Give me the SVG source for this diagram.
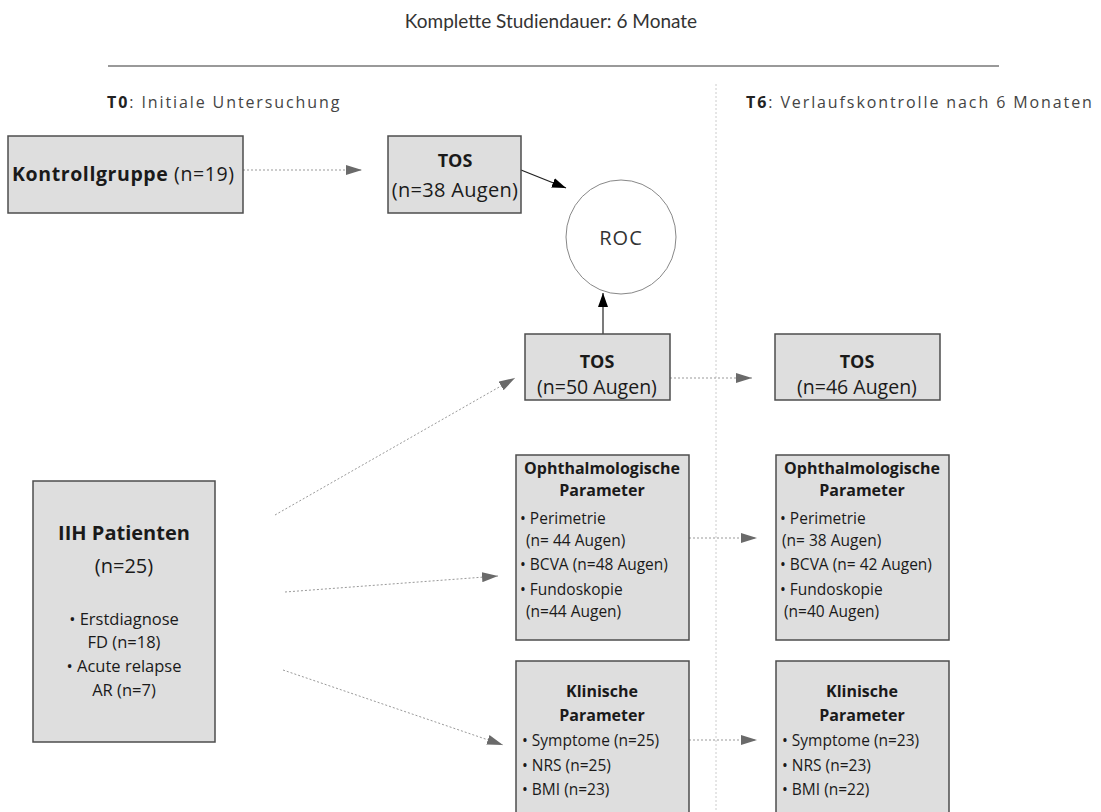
<svg xmlns="http://www.w3.org/2000/svg" width="1101" height="812" viewBox="0 0 1101 812">
<style>
text{font-family:"Open Sans",Lato,"Liberation Sans",sans-serif;fill:#1a1a1a}
.box{fill:#dedede;stroke:#4d4d4d;stroke-width:1.5}
.b{font-weight:bold}
.c{text-anchor:middle}
.hd{font-size:16px;fill:#444;letter-spacing:1.9px}
.big{font-size:19.5px}
.sm{font-size:15.5px}
.hh{font-size:16px;font-weight:bold}
.dot{stroke:#999;stroke-width:1;stroke-dasharray:2 2;fill:none}
.sol{stroke:#222;stroke-width:1.2;fill:none}
</style>
<defs>
<marker id="ag" viewBox="0 0 16 10" refX="16" refY="5" markerWidth="16" markerHeight="10" markerUnits="userSpaceOnUse" orient="auto"><path d="M0,0 L16,5 L0,10 Z" fill="#6a6a6a"/></marker>
<marker id="ab" viewBox="0 0 14 10" refX="14" refY="5" markerWidth="14" markerHeight="10" markerUnits="userSpaceOnUse" orient="auto"><path d="M0,0 L14,5 L0,10 Z" fill="#000"/></marker>
</defs>
<rect width="1101" height="812" fill="#fff"/>
<g id="header">
<text x="551" y="28" class="c" style="font-family:Lato,'Open Sans',sans-serif;font-size:19px;fill:#333">Komplette Studiendauer: 6 Monate</text>
<line x1="108" y1="66" x2="999" y2="66" stroke="#777" stroke-width="1.5"/>
<line x1="716" y1="84" x2="716" y2="812" stroke="#ccc" stroke-width="1" stroke-dasharray="2 2"/>
<text x="107" y="108" class="hd"><tspan class="b" style="fill:#222">T0</tspan>: Initiale Untersuchung</text>
<text x="746" y="108" class="hd"><tspan class="b" style="fill:#222">T6</tspan>: Verlaufskontrolle nach 6 Monaten</text>
</g>
<g id="connectors">
<line class="dot" x1="243" y1="170" x2="362" y2="170" marker-end="url(#ag)"/>
<line class="sol" x1="521" y1="170" x2="566" y2="188" marker-end="url(#ab)"/>
<line class="sol" x1="603" y1="334" x2="603" y2="293" marker-end="url(#ab)"/>
<line class="dot" x1="670" y1="378" x2="752" y2="378" marker-end="url(#ag)"/>
<line class="dot" x1="275" y1="515" x2="515" y2="378" marker-end="url(#ag)"/>
<line class="dot" x1="285" y1="592" x2="498" y2="576" marker-end="url(#ag)"/>
<line class="dot" x1="283" y1="670" x2="503" y2="745" marker-end="url(#ag)"/>
<line class="dot" x1="689" y1="538" x2="757" y2="538" marker-end="url(#ag)"/>
<line class="dot" x1="689" y1="740" x2="757" y2="740" marker-end="url(#ag)"/>
</g>
<g id="kontrollgruppe">
<rect class="box" x="8" y="136" width="235" height="77"/>
<text x="12" y="181" class="big" style="letter-spacing:0.6px"><tspan class="b">Kontrollgruppe</tspan> (n=19)</text>
</g>
<g id="tos38">
<rect class="box" x="388" y="136" width="133" height="77"/>
<text x="455" y="167" class="c b" style="font-size:18px">TOS</text>
<text x="455" y="197" class="c" style="font-size:20px;letter-spacing:0.3px">(n=38 Augen)</text>
</g>
<g id="roc">
<ellipse cx="621" cy="237" rx="55" ry="57" fill="#fff" stroke="#888" stroke-width="1"/>
<text x="621" y="245" class="c" style="font-size:20px;fill:#333;letter-spacing:1px">ROC</text>
</g>
<g id="tos50">
<rect class="box" x="525" y="334" width="145" height="66"/>
<text x="597" y="368" class="c b" style="font-size:18px">TOS</text>
<text x="597" y="394" class="c big">(n=50 Augen)</text>
</g>
<g id="tos46">
<rect class="box" x="775" y="334" width="165" height="66"/>
<text x="857" y="368" class="c b" style="font-size:18px">TOS</text>
<text x="857" y="394" class="c big">(n=46 Augen)</text>
</g>
<g id="iih">
<rect class="box" x="33" y="481" width="182" height="261"/>
<text x="124" y="540" class="c b" style="font-size:20px">IIH Patienten</text>
<text x="124" y="573" class="c" style="font-size:20px">(n=25)</text>
<text x="124" y="625" class="c" style="font-size:16.5px">• Erstdiagnose</text>
<text x="124" y="648" class="c" style="font-size:16.5px">FD (n=18)</text>
<text x="124" y="672" class="c" style="font-size:16.5px">• Acute relapse</text>
<text x="124" y="696" class="c" style="font-size:16.5px">AR (n=7)</text>
</g>
<g id="ophth-t0">
<rect class="box" x="516" y="455" width="173" height="185"/>
<text x="602" y="474" class="c hh">Ophthalmologische</text>
<text x="602" y="496" class="c hh">Parameter</text>
<text x="520" y="524" class="sm">• Perimetrie</text>
<text x="526" y="546" class="sm">(n= 44 Augen)</text>
<text x="520" y="570" class="sm">• BCVA (n=48 Augen)</text>
<text x="520" y="595" class="sm">• Fundoskopie</text>
<text x="526" y="617" class="sm">(n=44 Augen)</text>
</g>
<g id="ophth-t6">
<rect class="box" x="776" y="455" width="173" height="185"/>
<text x="862" y="474" class="c hh">Ophthalmologische</text>
<text x="862" y="496" class="c hh">Parameter</text>
<text x="780" y="524" class="sm">• Perimetrie</text>
<text x="782" y="546" class="sm">(n= 38 Augen)</text>
<text x="780" y="570" class="sm">• BCVA (n= 42 Augen)</text>
<text x="780" y="595" class="sm">• Fundoskopie</text>
<text x="784" y="617" class="sm">(n=40 Augen)</text>
</g>
<g id="klin-t0">
<rect class="box" x="516" y="661" width="173" height="160"/>
<text x="602" y="697" class="c hh">Klinische</text>
<text x="602" y="721" class="c hh">Parameter</text>
<text x="522" y="746" class="sm">• Symptome (n=25)</text>
<text x="522" y="771" class="sm">• NRS (n=25)</text>
<text x="522" y="795" class="sm">• BMI (n=23)</text>
</g>
<g id="klin-t6">
<rect class="box" x="776" y="661" width="173" height="160"/>
<text x="862" y="697" class="c hh">Klinische</text>
<text x="862" y="721" class="c hh">Parameter</text>
<text x="782" y="746" class="sm">• Symptome (n=23)</text>
<text x="782" y="771" class="sm">• NRS (n=23)</text>
<text x="782" y="795" class="sm">• BMI (n=22)</text>
</g>
</svg>
